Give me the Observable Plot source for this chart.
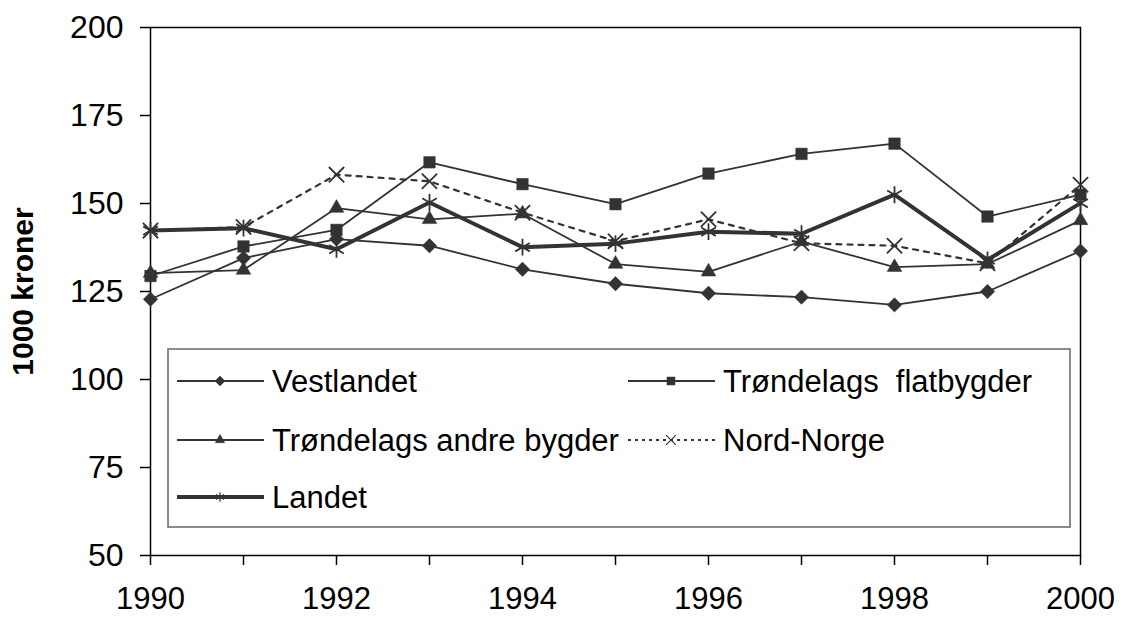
<!DOCTYPE html>
<html>
<head>
<meta charset="utf-8">
<script src="https://cdn.jsdelivr.net/npm/d3@7"></script>
<script src="https://cdn.jsdelivr.net/npm/@observablehq/plot@0.6"></script>
<style>
  html, body { margin: 0; padding: 0; background: #fff; }
  #wrap { position: relative; width: 1122px; height: 617px; font-family: "Liberation Sans", Arial, sans-serif; }
  #wrap svg { display: block; }
  #legend { position: absolute; left: 0; top: 0; }
</style>
</head>
<body>
<div id="wrap"></div>
<script>
const years = [1990, 1991, 1992, 1993, 1994, 1995, 1996, 1997, 1998, 1999, 2000];
const vestlandet  = [122.8, 134.5, 139.9, 138.0, 131.3, 127.2, 124.5, 123.4, 121.2, 125.0, 136.5];
const flatbygder  = [129.4, 137.8, 142.5, 161.7, 155.5, 149.8, 158.5, 164.1, 167.0, 146.3, 152.5];
const andreBygder = [130.2, 131.1, 148.7, 145.5, 147.1, 132.8, 130.6, 139.2, 131.9, 132.8, 145.2];
const nordNorge   = [142.3, 143.3, 158.2, 156.3, 147.4, 139.3, 145.5, 138.7, 138.0, 133.0, 155.3];
const landet      = [142.3, 143.0, 137.0, 150.3, 137.6, 138.6, 142.0, 141.4, 152.5, 134.0, 150.1];
const yTicks = [50, 75, 100, 125, 150, 175, 200];
const seriesNames = ["Vestlandet", "Trøndelags  flatbygder", "Trøndelags andre bygder", "Nord-Norge", "Landet"];
const yLabel = "1000 kroner";

const ink = "#333";
const series = [
  {name: seriesNames[0], values: vestlandet,  symbol: "diamond2",  sw: 1.8, dash: null, r: 6.5, filled: true},
  {name: seriesNames[1], values: flatbygder,  symbol: "square",    sw: 1.8, dash: null, r: 6.5, filled: true},
  {name: seriesNames[2], values: andreBygder, symbol: "triangle2", sw: 1.8, dash: null, r: 7, filled: true},
  {name: seriesNames[3], values: nordNorge,   symbol: "times",     sw: 2.2, dash: "5,6", r: 7, filled: false},
  {name: seriesNames[4], values: landet,      symbol: "asterisk",  sw: 4,   dash: null, r: 8, filled: false}
];

const marks = [];
for (const s of series) {
  const data = years.map((y, i) => ({year: y, value: s.values[i]}));
  marks.push(Plot.line(data, {x: "year", y: "value", stroke: ink, strokeWidth: s.sw, strokeDasharray: s.dash}));
}
for (const s of series) {
  const data = years.map((y, i) => ({year: y, value: s.values[i]}));
  marks.push(Plot.dot(data, {x: "year", y: "value", symbol: () => s.symbol, r: s.r,
    fill: s.filled ? ink : "none", stroke: ink, strokeWidth: s.filled ? 0.5 : 1.8}));
}

const chart = Plot.plot({
  width: 1122,
  height: 617,
  marginLeft: 150,
  marginRight: 42,
  marginTop: 27,
  marginBottom: 62,
  style: {fontFamily: '"Liberation Sans", Arial, sans-serif', background: "#fff", color: "#000"},
  x: {domain: [1990, 2000]},
  y: {domain: [50, 200]},
  marks: [
    Plot.frame({stroke: "#000", strokeWidth: 1.5}),
    Plot.axisY({ticks: yTicks, tickSize: 10, tickPadding: 17, fontSize: 32, stroke: "#000", strokeWidth: 1.5, label: null, fill: "#000"}),
    Plot.axisX({ticks: years, tickSize: 10, tickPadding: 21, fontSize: 31, stroke: "#000", strokeWidth: 1.5, label: null, fill: "#000",
      tickFormat: d => d % 2 === 0 ? String(d) : ""}),
    Plot.text([yLabel], {frameAnchor: "left", textAnchor: "middle", rotate: -90, dx: -127, fontSize: 30, fontWeight: "bold", fill: "#000"}),
    ...marks
  ]
});

const wrap = document.getElementById("wrap");
wrap.appendChild(chart);

// Legend overlay
const lg = d3.select(wrap).append("svg").attr("id", "legend").attr("width", 1122).attr("height", 617);
lg.append("rect").attr("x", 168).attr("y", 349).attr("width", 902).attr("height", 178)
  .attr("fill", "#fff").attr("stroke", "#666").attr("stroke-width", 1.5);
const symMap = {diamond2: d3.symbolDiamond2, square: d3.symbolSquare, triangle2: d3.symbolTriangle2, times: d3.symbolTimes, asterisk: d3.symbolAsterisk};
const pos = [[177, 381], [628, 381], [177, 440], [628, 440], [177, 497]];
series.forEach((s, i) => {
  const [x0, yc] = pos[i];
  const g = lg.append("g");
  g.append("line").attr("x1", x0).attr("x2", x0 + 87).attr("y1", yc).attr("y2", yc)
    .attr("stroke", ink).attr("stroke-width", s.sw).attr("stroke-dasharray", s.dash ? "3,4" : null);
  g.append("path").attr("transform", `translate(${x0 + 43},${yc})`)
    .attr("d", d3.symbol(symMap[s.symbol], Math.PI * 4.5 * 4.5)())
    .attr("fill", s.filled ? ink : "none").attr("stroke", ink).attr("stroke-width", s.filled ? 0.5 : 1.2);
  g.append("text").attr("x", x0 + 95).attr("y", yc).attr("dy", "0.35em")
    .attr("font-size", 31).attr("fill", "#000").style("white-space", "pre")
    .attr("font-family", '"Liberation Sans", Arial, sans-serif').text(s.name);
});
</script>
</body>
</html>
